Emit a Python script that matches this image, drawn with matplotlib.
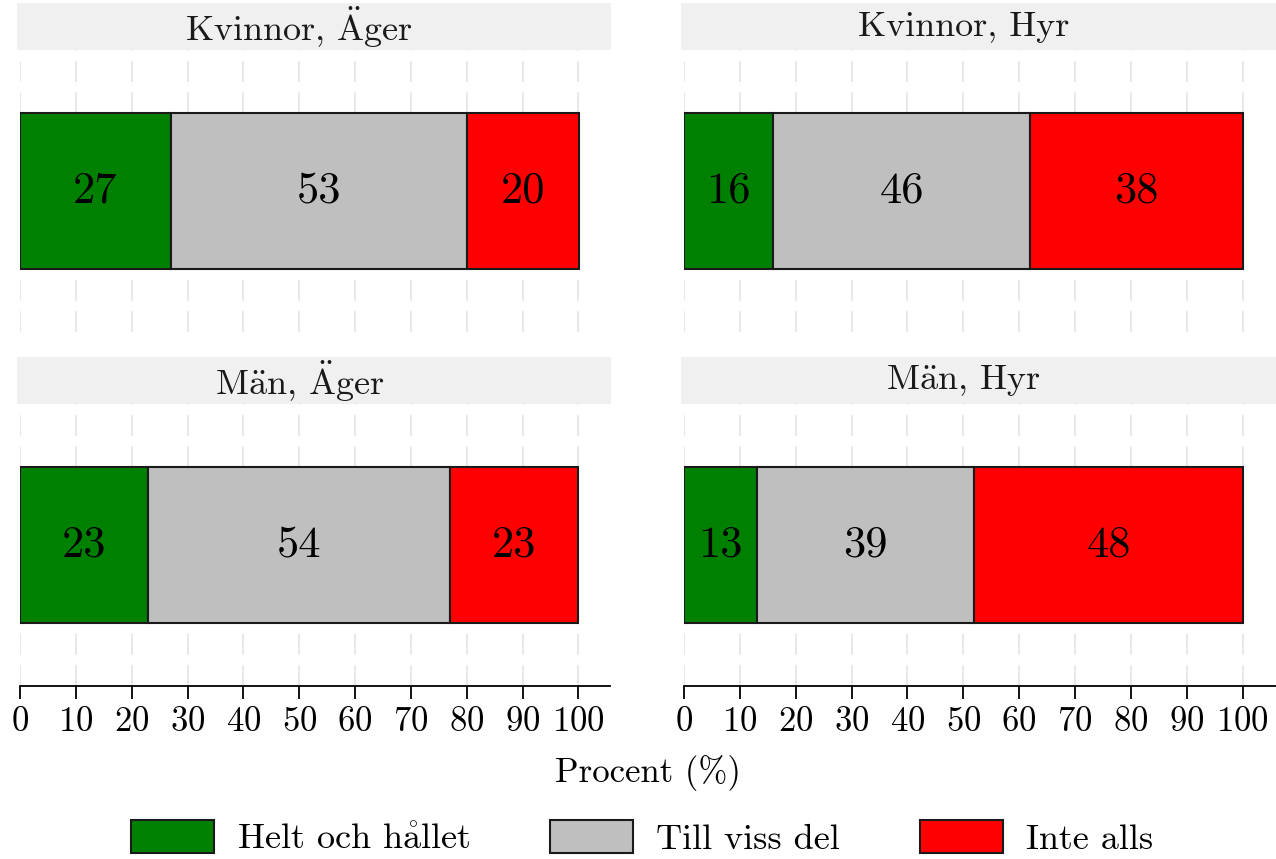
import matplotlib
matplotlib.use("Agg")
import matplotlib.pyplot as plt
from matplotlib.patches import Rectangle, Patch

panels = ["Kvinnor, $\\ddot{\\mathrm{A}}$ger", "Kvinnor, Hyr",
          "M$\\ddot{\\mathrm{a}}$n, $\\ddot{\\mathrm{A}}$ger", "M$\\ddot{\\mathrm{a}}$n, Hyr"]
categories = ["Helt och h$\\mathring{\\mathrm{a}}$llet", "Till viss del", "Inte alls"]
helt = [27, 16, 23, 13]
viss = [53, 46, 54, 39]
inte = [20, 38, 23, 48]
colors = ["#008000", "#bfbfbf", "#ff0000"]
xticks = [0, 10, 20, 30, 40, 50, 60, 70, 80, 90, 100]

plt.rcParams['font.family'] = ['cmr10', 'DejaVu Serif']
plt.rcParams['mathtext.fontset'] = 'cm'
plt.rcParams['axes.formatter.use_mathtext'] = True

W, H = 1276, 859
fig = plt.figure(figsize=(W / 100, H / 100), dpi=100)

# axes boxes in pixel coords: (x0, x1, ytop, ybottom)
boxes = [(20, 610, 50, 332), (684, 1276, 50, 332),
         (20, 610, 404, 686), (684, 1276, 404, 686)]
scale = 5.585  # px per unit

for i, (x0, x1, yt, yb) in enumerate(boxes):
    ax = fig.add_axes([x0 / W, 1 - yb / H, (x1 - x0) / W, (yb - yt) / H])
    ax.set_xlim(0, (x1 - x0) / scale)
    ax.set_ylim(-1, 1)
    ax.set_axisbelow(True)
    for xt in xticks:
        ax.axvline(xt, color="#e8e8e8", lw=1.5, ls=(0, (10, 5)), zorder=0)
    vals = [helt[i], viss[i], inte[i]]
    left = 0
    for v, c in zip(vals, colors):
        ax.barh(0, v, left=left, height=1.113, color=c, edgecolor="#1a1a1a",
                linewidth=1.5, zorder=2)
        ax.text(left + v / 2, 0, f"{v}", ha="center", va="center",
                fontsize=32, zorder=3)
        left += v
    for s in ["top", "right", "left"]:
        ax.spines[s].set_visible(False)
    ax.set_yticks([])
    ax.set_xticks(xticks)
    if i >= 2:
        ax.spines["bottom"].set_linewidth(1.3)
        ax.tick_params(axis="x", length=9, width=1.3, labelsize=25, pad=6)
    else:
        ax.spines["bottom"].set_visible(False)
        ax.tick_params(axis="x", length=0, labelbottom=False)
    # strip
    sx0 = x0 - 3
    sx1 = min(x1 + 1, W)
    fig.patches.append(Rectangle((sx0 / W, 1 - yt / H), (sx1 - sx0) / W, 47 / H,
                                 transform=fig.transFigure, facecolor="#f0f0f0",
                                 edgecolor="none", zorder=0))
    fig.text((x0 + 50 * scale) / W, 1 - (yt - 23) / H, panels[i], ha="center",
             va="center", fontsize=26, color="#1a1a1a")

fig.text(648 / W, 1 - 773 / H, "Procent (%)", ha="center", va="center", fontsize=25)

handles = [Patch(facecolor=c, edgecolor="#1a1a1a", linewidth=1.5, label=l)
           for c, l in zip(colors, categories)]
fig.legend(handles=handles, loc="center", bbox_to_anchor=(642 / W, 1 - 838 / H),
           ncol=3, frameon=False, fontsize=26, handlelength=2.3, handleheight=1.0,
           columnspacing=2.2, handletextpad=0.65)

fig.savefig("out.png", dpi=100)
